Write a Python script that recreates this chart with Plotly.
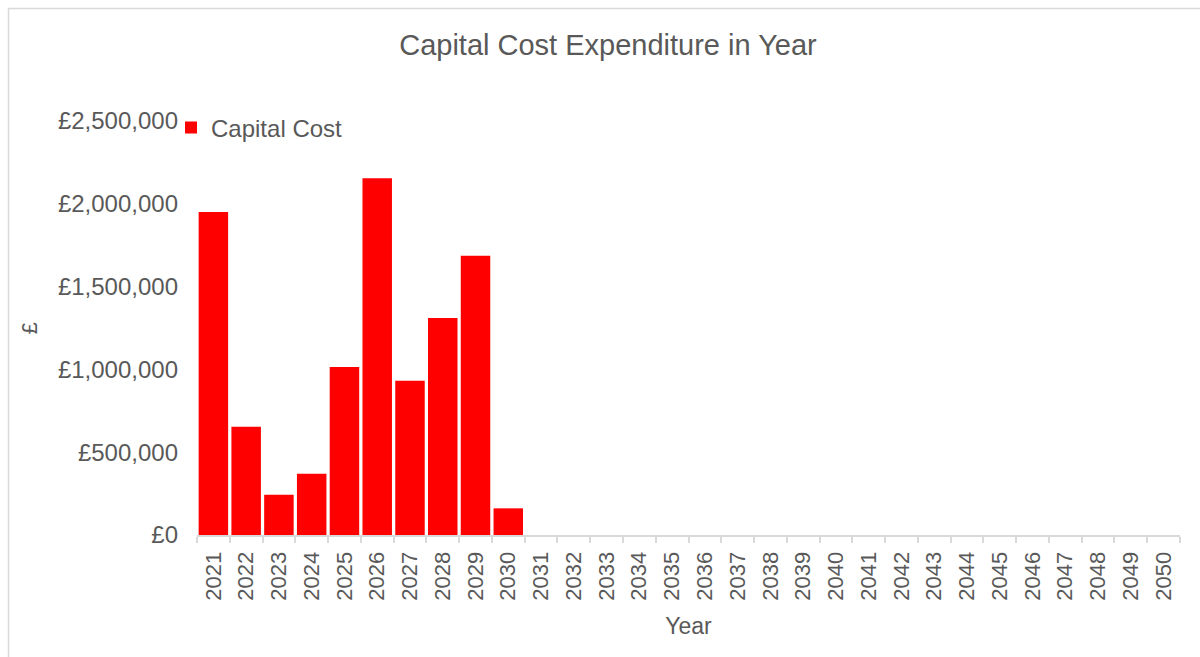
import plotly.graph_objects as go

# Annual capital expenditure, 2021-2050 (GBP)
years = [str(y) for y in range(2021, 2051)]
capital_cost = [
    1951000, 654000, 243000, 370000, 1014000,
    2154000, 931000, 1310000, 1686000, 161000,
] + [0] * 20

y_tick_vals = [0, 500000, 1000000, 1500000, 2000000, 2500000]
y_tick_text = ["£0", "£500,000", "£1,000,000", "£1,500,000", "£2,000,000", "£2,500,000"]

TEXT = "#595959"
GRID = "#D9D9D9"
FONT = "Liberation Sans, Arial, sans-serif"

fig = go.Figure()
fig.add_trace(go.Bar(
    x=years,
    y=capital_cost,
    name="Capital Cost",
    marker=dict(color="#FF0000", line=dict(width=0)),
))

# Plot area: left 197, right 1180, top 121, bottom 535 (px)
L, R, T, B = 197, 20, 121, 122
W, H = 1200, 657
pw, ph = W - L - R, H - T - B

def px_x(v):
    return (v - L) / pw

def px_y(v):
    return (H - B - v) / ph

fig.update_layout(
    width=W,
    height=H,
    margin=dict(l=L, r=R, t=T, b=B, autoexpand=False),
    paper_bgcolor="white",
    plot_bgcolor="white",
    font=dict(family=FONT, color=TEXT, size=22),
    bargap=0.1,
    title=dict(
        text="Capital Cost Expenditure in Year",
        x=608 / W, xref="container", xanchor="center",
        y=1 - 45 / H, yref="container", yanchor="middle",
        font=dict(size=29, color=TEXT, family=FONT),
    ),
    showlegend=True,
    legend=dict(
        x=px_x(171), y=px_y(128), xanchor="left", yanchor="middle",
        xref="paper", yref="paper",
        bgcolor="rgba(0,0,0,0)",
        font=dict(size=24, color=TEXT, family=FONT),
        itemwidth=30,
    ),
    xaxis=dict(
        type="category",
        tickangle=-90,
        tickson="boundaries",
        ticks="outside",
        ticklen=6,
        tickcolor=GRID,
        tickwidth=1.5,
        showline=True,
        linecolor=GRID,
        linewidth=2,
        showgrid=False,
        ticklabelstandoff=6,
        tickfont=dict(size=22, color=TEXT, family=FONT),
        title=dict(text="Year", font=dict(size=23, color=TEXT, family=FONT), standoff=18),
        automargin=False,
    ),
    yaxis=dict(
        range=[0, 2500000],
        tickvals=y_tick_vals,
        ticktext=y_tick_text,
        showgrid=False,
        zeroline=False,
        showline=False,
        ticks="",
        ticklabelstandoff=18,
        tickfont=dict(size=24, color=TEXT, family=FONT),
        title=dict(text="£", font=dict(size=22, color=TEXT, family=FONT), standoff=14),
        automargin=False,
    ),
    shapes=[
        dict(
            type="rect", xref="paper", yref="paper",
            x0=px_x(8.5), x1=px_x(1210), y0=px_y(670), y1=px_y(8.5),
            line=dict(color=GRID, width=1.5), fillcolor="rgba(0,0,0,0)",
            layer="below",
        )
    ],
)

fig.write_html("out.html")
